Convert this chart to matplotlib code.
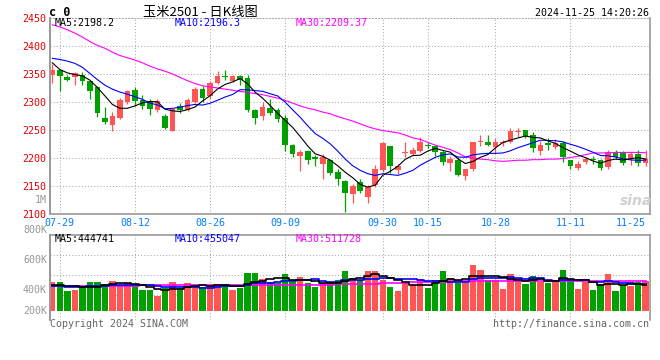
import matplotlib
matplotlib.use('Agg')
import matplotlib.pyplot as plt
import pandas as pd

# trading days 2024-07-26 .. 2024-11-25 (Mid-Autumn and National Day closed)
holidays = ['2024-09-16', '2024-09-17', '2024-10-01', '2024-10-02',
            '2024-10-03', '2024-10-04', '2024-10-07']
days = [d for d in pd.bdate_range('2024-07-26', '2024-11-25')
        if d.strftime('%Y-%m-%d') not in holidays]
day_labels = [d.strftime('%m-%d') for d in days]

tick_labels = ['07-29', '08-12', '08-26', '09-09', '09-30', '10-15', '10-28', '11-11', '11-25']

opens = [2349, 2358, 2344, 2345, 2348, 2337, 2326, 2271, 2259, 2272,
         2300, 2321, 2304, 2301, 2285, 2275, 2249, 2293, 2286, 2300,
         2323, 2310, 2334, 2347, 2337, 2347, 2342, 2286, 2275, 2290,
         2286, 2272, 2224, 2204, 2212, 2202, 2189, 2196, 2175, 2159,
         2136, 2157, 2131, 2151, 2178, 2221, 2179, 2209, 2208, 2212,
         2223, 2221, 2211, 2191, 2197, 2168, 2180, 2228, 2229, 2220,
         2227, 2228, 2247, 2250, 2241, 2213, 2226, 2220, 2227, 2196,
         2183, 2192, 2198, 2196, 2184, 2210, 2210, 2198, 2207, 2191]
highs = [2367, 2359, 2349, 2354, 2354, 2338, 2328, 2291, 2283, 2308,
         2322, 2327, 2312, 2305, 2305, 2278, 2290, 2298, 2307, 2326,
         2328, 2338, 2355, 2358, 2349, 2349, 2349, 2287, 2300, 2306,
         2290, 2276, 2225, 2215, 2214, 2205, 2207, 2199, 2180, 2160,
         2154, 2162, 2152, 2187, 2229, 2222, 2190, 2228, 2220, 2237,
         2229, 2223, 2214, 2204, 2201, 2181, 2229, 2241, 2241, 2235,
         2233, 2253, 2254, 2250, 2247, 2230, 2236, 2234, 2230, 2197,
         2194, 2202, 2203, 2198, 2214, 2215, 2212, 2210, 2215, 2214]
lows = [2334, 2320, 2337, 2330, 2330, 2305, 2274, 2260, 2249, 2269,
        2296, 2292, 2287, 2277, 2282, 2251, 2249, 2281, 2284, 2298,
        2300, 2306, 2332, 2340, 2335, 2330, 2283, 2261, 2267, 2277,
        2265, 2212, 2202, 2177, 2189, 2185, 2162, 2170, 2152, 2103,
        2119, 2138, 2119, 2148, 2175, 2173, 2171, 2202, 2205, 2210,
        2217, 2203, 2187, 2176, 2168, 2161, 2177, 2221, 2222, 2209,
        2221, 2226, 2238, 2235, 2211, 2205, 2215, 2216, 2193, 2180,
        2179, 2189, 2190, 2178, 2180, 2198, 2187, 2187, 2186, 2185]
closes = [2358, 2347, 2339, 2352, 2337, 2320, 2281, 2265, 2275, 2303,
          2320, 2302, 2292, 2287, 2301, 2254, 2287, 2286, 2304, 2324,
          2308, 2334, 2346, 2345, 2346, 2339, 2286, 2272, 2291, 2281,
          2269, 2224, 2208, 2211, 2196, 2199, 2201, 2173, 2162, 2138,
          2150, 2141, 2149, 2180, 2226, 2185, 2186, 2211, 2214, 2229,
          2222, 2210, 2193, 2198, 2170, 2180, 2228, 2230, 2223, 2229,
          2229, 2249, 2249, 2240, 2217, 2224, 2223, 2226, 2202, 2186,
          2190, 2199, 2196, 2182, 2211, 2202, 2191, 2208, 2191, 2198]

ma5 = [2370, 2358, 2352, 2349, 2346.6, 2339.0, 2325.8, 2311.0, 2295.6, 2288.8,
       2288.8, 2293.0, 2298.4, 2300.8, 2300.4, 2287.2, 2284.2, 2283.0, 2286.4, 2291.0,
       2301.8, 2311.2, 2323.2, 2331.4, 2335.8, 2342.0, 2332.4, 2317.6, 2306.8, 2293.8,
       2279.8, 2267.4, 2254.6, 2238.6, 2221.6, 2207.6, 2203.0, 2196.0, 2186.2, 2174.6,
       2164.8, 2152.8, 2148.0, 2151.6, 2169.2, 2176.2, 2185.2, 2197.6, 2204.4, 2205.0,
       2212.4, 2217.2, 2213.6, 2210.4, 2198.6, 2190.2, 2193.8, 2201.2, 2206.2, 2218.0,
       2227.8, 2232.0, 2235.8, 2239.2, 2236.8, 2235.8, 2230.6, 2226.0, 2218.4, 2212.2,
       2205.4, 2200.6, 2194.6, 2190.6, 2195.6, 2198.0, 2196.4, 2198.8, 2200.6, 2198.2]
ma10 = [2378, 2376, 2373, 2369, 2362, 2351, 2340, 2330, 2323, 2317.7,
        2313.9, 2309.4, 2304.7, 2298.2, 2294.6, 2288.0, 2288.6, 2290.7, 2293.6, 2295.7,
        2294.5, 2297.7, 2303.1, 2308.9, 2313.4, 2321.9, 2321.8, 2320.4, 2319.1, 2314.8,
        2310.9, 2299.9, 2286.1, 2272.7, 2257.7, 2243.7, 2235.2, 2225.3, 2212.4, 2198.1,
        2186.2, 2177.9, 2172.0, 2168.9, 2171.9, 2170.5, 2169.0, 2172.8, 2178.0, 2187.1,
        2194.3, 2201.2, 2205.6, 2207.4, 2201.8, 2201.3, 2205.5, 2207.4, 2208.3, 2208.3,
        2209.0, 2212.9, 2218.5, 2222.7, 2227.4, 2231.8, 2231.3, 2230.9, 2228.8, 2224.5,
        2220.6, 2215.6, 2210.3, 2204.5, 2203.9, 2201.7, 2198.5, 2196.7, 2195.6, 2196.3]
ma30 = [2438, 2434, 2429, 2423, 2416, 2408, 2401, 2396, 2389, 2383,
        2379, 2375, 2370, 2364, 2359, 2355, 2350, 2344, 2338, 2333,
        2329, 2327, 2325, 2323, 2321, 2319, 2317, 2315, 2313, 2310,
        2307, 2303, 2298, 2293, 2289, 2286, 2282, 2279, 2274, 2270,
        2266, 2261, 2256, 2252, 2249, 2247, 2245, 2241, 2236, 2233,
        2228, 2223, 2219, 2215, 2209, 2202, 2200, 2198, 2197, 2195,
        2194, 2195, 2196, 2196, 2197, 2197, 2198, 2198, 2199, 2201,
        2203, 2206, 2209, 2209, 2209, 2210, 2210, 2210, 2210, 2209.37]

# volume in thousand lots
volume = [491, 491, 341, 358, 398, 491, 491, 457, 514, 433,
          474, 433, 358, 358, 260, 398, 491, 398, 474, 415,
          415, 440, 465, 457, 358, 398, 647, 647, 548, 491,
          474, 630, 491, 578, 474, 415, 474, 474, 531, 687,
          571, 531, 687, 687, 531, 415, 341, 502, 445, 548,
          388, 531, 687, 571, 474, 474, 791, 704, 531, 531,
          375, 635, 571, 457, 600, 500, 474, 531, 704, 531,
          375, 491, 358, 457, 635, 340, 440, 425, 505, 514]
vma5 = [445, 445, 430, 420, 416, 416, 416, 439, 470, 477,
        474, 462, 442, 411, 377, 361, 373, 381, 404, 435,
        439, 428, 442, 438, 427, 424, 465, 501, 520, 546,
        561, 558, 527, 533, 529, 518, 486, 483, 474, 516,
        547, 559, 601, 633, 601, 570, 532, 495, 447, 450,
        445, 483, 520, 545, 530, 547, 599, 603, 595, 606,
        586, 555, 529, 514, 528, 553, 520, 512, 562, 548,
        523, 526, 492, 442, 463, 456, 446, 459, 469, 444.741]
vma10 = [420, 420, 418, 416, 415, 420, 425, 432, 440, 447,
         445, 439, 441, 441, 427, 418, 418, 412, 408, 406,
         400, 401, 411, 421, 431, 431, 447, 472, 479, 487,
         493, 512, 514, 526, 538, 540, 522, 505, 503, 523,
         533, 523, 542, 553, 559, 559, 546, 548, 540, 526,
         508, 508, 508, 496, 490, 496, 541, 561, 570, 568,
         567, 577, 566, 554, 567, 570, 538, 521, 538, 538,
         538, 523, 502, 502, 506, 490, 486, 476, 456, 455.047]
vma30 = [425, 426, 427, 428, 429, 430, 431, 432, 433, 434,
         435, 436, 437, 438, 438, 439, 440, 441, 442, 443,
         443, 444, 444, 445, 445, 445, 446, 446, 446, 446,
         446, 447, 448, 449, 450, 451, 452, 453, 454, 455,
         458, 462, 466, 470, 474, 478, 482, 486, 490, 494,
         497, 500, 502, 504, 506, 508, 510, 511, 512, 513,
         514, 514, 515, 515, 515, 515, 515, 514, 514, 514,
         514, 513, 513, 513, 512, 512, 512, 512, 512, 511.728]

RED = '#ff5555'
GREEN = '#00a000'
GRID = '#aaaaaa'
EDGE = '#999999'
MONO = 'DejaVu Sans Mono'
FS = 7.2

W, H = 660, 360


def fx(px):
    return px / W


def fy(py):
    return 1 - py / H


x = list(range(len(closes)))
cols = [RED if c >= o else GREEN for o, c in zip(opens, closes)]
tick_pos = [day_labels.index(t) for t in tick_labels]

fig = plt.figure(figsize=(W / 100, H / 100), dpi=100)
ax = fig.add_axes([fx(50), fy(214), fx(649.5) - fx(50), (214 - 18) / H])
axv = fig.add_axes([fx(50), fy(319.5), fx(649.5) - fx(50), (319.5 - 234.5) / H])

# ---- price panel
ax.set_xlim(-0.31, 79.52)
ax.set_ylim(2100, 2450)
for p in tick_pos[:-1]:
    ax.axvline(p, color=GRID, lw=0.75, ls=(0, (1, 2)), zorder=0)
for lvl in range(2150, 2450, 50):
    ax.axhline(lvl, color=GRID, lw=0.75, ls=(0, (1, 2)), zorder=0)

ax.vlines(x, lows, highs, colors=cols, lw=0.9, zorder=2)
body_lo = [min(o, c) for o, c in zip(opens, closes)]
body_h = [max(abs(c - o), 1.6) for o, c in zip(opens, closes)]
ax.bar(x, body_h, bottom=body_lo, width=0.76, color=cols, lw=0, zorder=2)

ax.plot(x, ma30, color='#ff00ff', lw=0.8, zorder=3)
ax.plot(x, ma10, color='#0000ff', lw=0.8, zorder=3)
ax.plot(x, ma5, color='black', lw=0.8, zorder=3)

ax.set_yticks(range(2100, 2451, 50))
ax.set_yticklabels([str(v) for v in range(2100, 2451, 50)], color='#e00000',
                   fontsize=FS, family=MONO)
ax.set_xticks(tick_pos)
ax.set_xticklabels(tick_labels, color='#0080ff', fontsize=FS, family=MONO)
ax.get_xticklabels()[-1].set_horizontalalignment('right')
ax.tick_params(axis='both', length=0)
ax.tick_params(axis='y', pad=2.5)
ax.tick_params(axis='x', pad=3)
for s in ['left', 'bottom', 'right']:
    ax.spines[s].set_color(EDGE)
ax.spines['left'].set_linewidth(1.4)
ax.spines['bottom'].set_linewidth(1.2)
ax.spines['right'].set_linewidth(1.2)
ax.spines['top'].set_color(GRID)
ax.spines['top'].set_linewidth(0.75)
ax.spines['top'].set_linestyle((0, (1, 2)))

# ---- volume panel
axv.set_xlim(-0.31, 79.52)
axv.set_ylim(-152, 1318)
for p in tick_pos[:-1]:
    axv.axvline(p, color=GRID, lw=0.75, ls=(0, (1, 2)), zorder=0)
for lvl in [266, 612, 955]:
    axv.axhline(lvl, color=GRID, lw=0.75, ls=(0, (1, 2)), zorder=0)
axv.bar(x, volume, width=0.84, color=cols, lw=0, zorder=2)
axv.plot(x, vma30, color='#ff00ff', lw=1.2, drawstyle='steps-mid', zorder=3)
axv.plot(x, vma10, color='#0000ff', lw=1.2, drawstyle='steps-mid', zorder=3)
axv.plot(x, vma5, color='black', lw=1.2, drawstyle='steps-mid', zorder=3)
axv.set_xticks([])
axv.set_yticks([])
for s in ['left', 'top', 'right']:
    axv.spines[s].set_color(EDGE)
    axv.spines[s].set_linewidth(1.2)
axv.spines['left'].set_linewidth(1.4)
axv.spines['bottom'].set_visible(False)

# volume axis labels as drawn by the source chart
for lab, py in [('1M', 200), ('800K', 230), ('600K', 260), ('400K', 290), ('200K', 311)]:
    fig.text(fx(47), fy(py), lab, ha='right', va='center', color='#999999',
             fontsize=FS, family=MONO)

# ---- header / legends / footer
fig.text(fx(49), fy(12.5), 'c 0', ha='left', va='center', fontsize=8.5,
         family=MONO, weight='bold', color='black')
fig.text(fx(200), fy(12.5), '玉米2501 - 日K线图', ha='center', va='center',
         fontsize=9.5, family=['Noto Sans CJK SC', 'DejaVu Sans'], color='black')
fig.text(fx(649), fy(12.5), '2024-11-25 14:20:26', ha='right', va='center',
         fontsize=FS, family=MONO, color='black')

fig.text(fx(55), fy(23.5), 'MA5:%.1f' % ma5[-1], ha='left', va='center',
         fontsize=FS, family=MONO, color='black')
fig.text(fx(175), fy(23.5), 'MA10:%.1f' % ma10[-1], ha='left', va='center',
         fontsize=FS, family=MONO, color='#0000ff')
fig.text(fx(296), fy(23.5), 'MA30:%.2f' % ma30[-1], ha='left', va='center',
         fontsize=FS, family=MONO, color='#ff00ff')

fig.text(fx(55), fy(238.5), 'MA5:%d' % round(vma5[-1] * 1000), ha='left', va='center',
         fontsize=FS, family=MONO, color='black')
fig.text(fx(175), fy(238.5), 'MA10:%d' % round(vma10[-1] * 1000), ha='left', va='center',
         fontsize=FS, family=MONO, color='#0000ff')
fig.text(fx(296), fy(238.5), 'MA30:%d' % round(vma30[-1] * 1000), ha='left', va='center',
         fontsize=FS, family=MONO, color='#ff00ff')

fig.text(fx(50), fy(324), 'Copyright 2024 SINA.COM', ha='left', va='center',
         fontsize=FS, family=MONO, color='#666666')
fig.text(fx(649), fy(324), 'http://finance.sina.com.cn', ha='right', va='center',
         fontsize=FS, family=MONO, color='#666666')

# sina watermark
fig.text(fx(636), fy(201), 'sina', ha='center', va='center', fontsize=10,
         style='italic', weight='bold', color='#d0d0d0', family='DejaVu Sans')

fig.savefig('out.png', dpi=100)
